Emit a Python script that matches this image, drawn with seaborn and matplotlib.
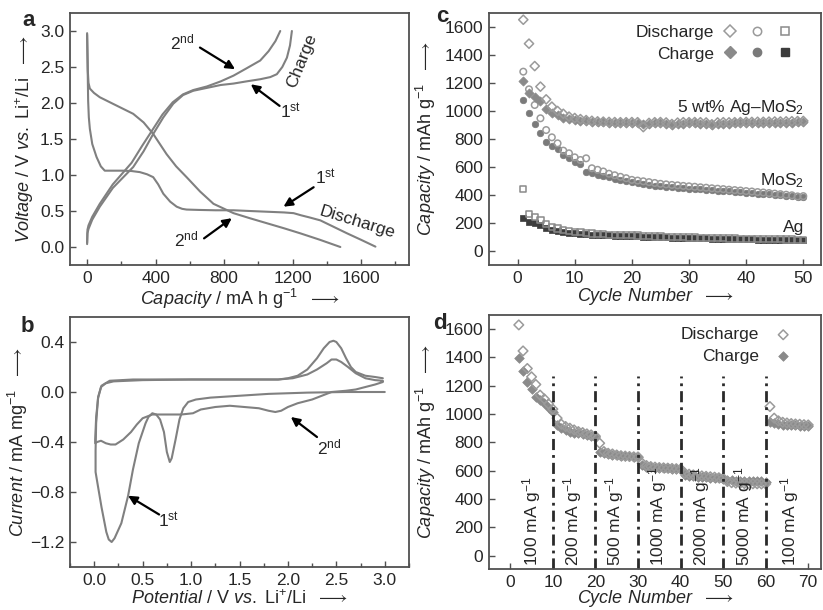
import matplotlib
matplotlib.use("Agg")
import matplotlib.pyplot as plt
import numpy as np
import seaborn as sns
from matplotlib.lines import Line2D
from matplotlib.legend_handler import HandlerTuple
from matplotlib.ticker import MultipleLocator

# ---- panel a: galvanostatic curves (capacity / mAh g-1, voltage / V)
dis1_cap = [0, 3, 6, 10, 16, 30, 55, 80, 103, 150, 211, 260, 308, 350, 386, 415, 445, 485,
            523, 555, 581, 650, 750, 855, 950, 1050, 1150, 1206, 1250, 1300, 1362, 1440, 1518, 1600, 1684]
dis1_v = [2.97, 2.5, 2.03, 1.8, 1.64, 1.43, 1.25, 1.12, 1.06, 1.06, 1.06, 1.055, 1.04, 1.01, 0.97, 0.87, 0.74, 0.63,
          0.56, 0.53, 0.52, 0.515, 0.51, 0.51, 0.5, 0.49, 0.48, 0.47, 0.44, 0.41, 0.37, 0.28, 0.19, 0.1, 0.005]
dis2_cap = [0, 4, 8, 16, 40, 74, 150, 269, 330, 386, 464, 520, 581, 660, 738, 855, 950, 1050, 1150, 1245, 1360, 1479]
dis2_v = [2.95, 2.45, 2.28, 2.2, 2.14, 2.08, 1.99, 1.85, 1.73, 1.57, 1.29, 1.12, 0.97, 0.77, 0.6, 0.47, 0.4, 0.33,
          0.26, 0.19, 0.1, 0.0]
ch1_cap = [0, 2, 8, 30, 74, 150, 269, 330, 386, 445, 503, 560, 620, 700, 780, 855, 930, 1011, 1070, 1108, 1140,
           1167, 1185, 1196]
ch1_v = [0.04, 0.19, 0.25, 0.38, 0.56, 0.82, 1.11, 1.33, 1.57, 1.8, 1.99, 2.11, 2.17, 2.21, 2.25, 2.27, 2.3, 2.33,
         2.36, 2.4, 2.5, 2.63, 2.8, 3.0]
ch2_cap = [0, 2, 8, 30, 74, 150, 260, 320, 380, 440, 500, 560, 620, 700, 780, 855, 930, 1011, 1060, 1100, 1128]
ch2_v = [0.06, 0.24, 0.3, 0.42, 0.6, 0.87, 1.17, 1.4, 1.62, 1.84, 2.01, 2.12, 2.18, 2.23, 2.3, 2.38, 2.48, 2.59,
         2.72, 2.86, 3.0]

# ---- panel b: cyclic voltammetry (potential / V, current / mA mg-1)
cv1_e = [3.0, 2.6, 2.2, 1.8, 1.5, 1.2, 1.05, 0.97, 0.92, 0.88, 0.84, 0.8, 0.78, 0.75, 0.72, 0.68, 0.64, 0.6, 0.56,
         0.53, 0.46, 0.4, 0.35, 0.28, 0.21, 0.18, 0.15, 0.125, 0.075, 0.04, 0.014,
         0.014, 0.02, 0.04, 0.075, 0.16, 0.4, 1.0, 1.5, 1.9, 2.0, 2.1, 2.2, 2.3, 2.37, 2.43, 2.47, 2.5, 2.55, 2.6,
         2.65, 2.7, 2.8, 2.9, 2.98]
cv1_i = [0.0, 0.0, -0.005, -0.015, -0.03, -0.045, -0.06, -0.08, -0.13, -0.22, -0.38, -0.53, -0.56, -0.48, -0.32,
         -0.22, -0.18, -0.17, -0.2, -0.25, -0.41, -0.62, -0.83, -1.05, -1.17, -1.2, -1.18, -1.12, -0.92, -0.76, -0.64,
         -0.47, -0.25, -0.04, 0.05, 0.09, 0.1, 0.1, 0.1, 0.1, 0.11, 0.13, 0.18, 0.27, 0.35, 0.4, 0.41, 0.4, 0.35, 0.27,
         0.2, 0.16, 0.13, 0.12, 0.11]
cv2_e = [2.98, 2.9, 2.8, 2.7, 2.6, 2.45, 2.35, 2.25, 2.1, 2.0, 1.93, 1.87, 1.8, 1.7, 1.55, 1.4, 1.25, 1.1, 1.02, 0.9,
         0.7, 0.6, 0.5, 0.44, 0.38, 0.3, 0.22, 0.17, 0.12, 0.07, 0.03, 0.01,
         0.01, 0.02, 0.04, 0.07, 0.12, 0.2, 0.5, 1.0, 1.5, 1.9, 2.05, 2.2, 2.3, 2.4, 2.45, 2.5, 2.55, 2.62, 2.7, 2.8,
         2.9, 2.98]
cv2_i = [0.08, 0.06, 0.04, 0.02, 0.01, 0.0, -0.03, -0.06, -0.09, -0.12, -0.15, -0.16, -0.15, -0.13, -0.12, -0.11,
         -0.12, -0.14, -0.17, -0.18, -0.18, -0.18, -0.21, -0.26, -0.32, -0.38, -0.42, -0.42, -0.41, -0.39, -0.4, -0.41,
         -0.38, -0.2, -0.05, 0.04, 0.07, 0.085, 0.095, 0.1, 0.1, 0.1, 0.11, 0.14, 0.18, 0.23, 0.26, 0.26, 0.24, 0.2,
         0.15, 0.11, 0.095, 0.09]

# ---- panel c: cycling at constant rate (mAh g-1), cycles 1-50
cycles_c = np.arange(1, 51)
agmos_dis = [1652, 1481, 1321, 1174, 1083, 1031, 1000, 980, 960, 950, 942, 935, 930, 926, 924, 922, 921, 920, 920, 921,
             920, 885, 915, 920, 921, 918, 907, 917, 920, 920, 921, 920, 918, 905, 918, 920, 919, 920, 921, 922,
             922, 923, 923, 924, 925, 925, 926, 927, 928, 929]
agmos_ch = [1217, 1126, 1098, 1074, 1012, 986, 974, 950, 940, 935, 930, 926, 922, 920, 918, 916, 915, 914, 914, 913,
            912, 905, 910, 912, 912, 910, 902, 908, 910, 911, 911, 910, 909, 900, 908, 910, 910, 911, 912, 912,
            913, 913, 914, 914, 915, 916, 916, 917, 918, 919]
mos_dis = [1281, 1155, 1043, 948, 864, 812, 769, 717, 698, 669, 650, 662, 591, 580, 568, 552, 541, 530, 520, 508,
           503, 498, 492, 486, 480, 476, 472, 469, 465, 462, 459, 455, 452, 448, 445, 442, 438, 435, 432, 428,
           425, 421, 418, 414, 410, 406, 402, 398, 390, 392]
mos_ch = [1079, 988, 907, 845, 781, 750, 726, 686, 662, 638, 620, 566, 557, 545, 535, 525, 515, 505, 497, 490,
          484, 478, 472, 467, 463, 459, 455, 452, 449, 446, 443, 440, 437, 434, 431, 428, 425, 422, 419, 416,
          413, 410, 407, 404, 401, 398, 395, 392, 388, 385]
ag_dis = [445, 264, 245, 221, 193, 174, 160, 150, 143, 137, 133, 128, 125, 122, 119, 117, 115, 114, 113, 112,
          110, 108, 106, 104, 103, 101, 100, 99, 98, 97, 96, 95, 94, 93, 92, 91, 90, 89, 88, 88,
          87, 86, 85, 85, 84, 83, 82, 82, 81, 81]
ag_ch = [233, 210, 198, 183, 164, 152, 145, 138, 132, 128, 124, 120, 117, 115, 113, 111, 109, 108, 107, 106,
         104, 102, 100, 99, 98, 97, 96, 95, 94, 93, 92, 91, 90, 89, 88, 87, 86, 85, 85, 84,
         83, 82, 81, 81, 80, 79, 78, 78, 77, 76]

# ---- panel d: rate capability, cycles 2-70
cycles_d = np.arange(2, 71)
rate_dis = [1630, 1446, 1322, 1263, 1209, 1134, 1107, 1071, 1035,
            971, 928, 912, 900, 888, 876, 869, 860, 853, 843,
            794, 735, 723, 718, 711, 706, 703, 700, 698, 697,
            652, 636, 629, 625, 622, 620, 618, 616, 614, 612,
            582, 575, 570, 566, 563, 560, 557, 554, 550, 546,
            523, 515, 512, 510, 509, 508, 507, 507, 506, 506,
            1053, 971, 952, 942, 937, 933, 930, 928, 925, 923]
rate_ch = [1397, 1305, 1228, 1176, 1121, 1098, 1075, 1046, 1016,
           923, 900, 888, 876, 869, 865, 858, 850, 846, 841,
           735, 723, 716, 711, 708, 705, 703, 701, 700, 700,
           641, 629, 625, 622, 620, 618, 616, 614, 613, 612,
           570, 565, 562, 558, 555, 552, 550, 548, 545, 542,
           535, 532, 530, 529, 528, 527, 526, 525, 524, 523,
           947, 935, 928, 925, 923, 921, 920, 919, 919, 919]
rate_bounds = [10, 20, 30, 40, 50, 60]
rate_labels = ["100", "200", "500", "1000", "2000", "5000", "100"]
rate_label_x = [4.9, 14.7, 24.5, 34.6, 44.8, 54.9, 65.5]

# ---- style
sns.set_style("ticks")
plt.rcParams['font.family'] = ['Liberation Sans', 'DejaVu Sans']
plt.rcParams['mathtext.fontset'] = 'custom'
plt.rcParams['mathtext.rm'] = 'Liberation Sans'
plt.rcParams['mathtext.it'] = 'Liberation Sans:italic'
plt.rcParams['mathtext.bf'] = 'Liberation Sans:bold'
plt.rcParams['mathtext.fallback'] = 'stixsans'

FS = 12.5
LINE = '#808080'
SPINE = '#505050'
ARROW = r'$\longrightarrow$'

fig = plt.figure(figsize=(8.23, 6.1), dpi=100)
W, H = 823, 610


def box(l, t, r, b):
    return [l / W, 1 - b / H, (r - l) / W, (b - t) / H]


ax_a = fig.add_axes(box(70, 13, 409, 265))
ax_c = fig.add_axes(box(489, 13, 821, 265))
ax_b = fig.add_axes(box(70, 317, 409, 567))
ax_d = fig.add_axes(box(489, 315, 821, 569))

for ax in (ax_a, ax_b, ax_c, ax_d):
    for s in ax.spines.values():
        s.set_color(SPINE)
        s.set_linewidth(1.3)
    ax.tick_params(direction='in', length=4, width=1, color=SPINE, labelsize=FS, pad=4)
    ax.tick_params(which='minor', direction='in', length=3, width=1, color=SPINE)


def arrow(ax, tail, tip):
    ax.annotate('', xy=tip, xytext=tail,
                arrowprops=dict(arrowstyle='-|>', color='black', lw=1.6, mutation_scale=13,
                                shrinkA=0, shrinkB=0))


# ---- a
for cx, cy in ((dis1_cap, dis1_v), (dis2_cap, dis2_v), (ch1_cap, ch1_v), (ch2_cap, ch2_v)):
    sns.lineplot(x=cx, y=cy, sort=False, estimator=None, color=LINE, lw=1.5, ax=ax_a)
ax_a.set_xlim(-100, 1880)
ax_a.set_ylim(-0.25, 3.25)
ax_a.set_xticks([0, 400, 800, 1200, 1600])
ax_a.xaxis.set_minor_locator(MultipleLocator(200))
ax_a.set_yticks([0, 0.5, 1.0, 1.5, 2.0, 2.5, 3.0])
ax_a.yaxis.set_major_formatter(matplotlib.ticker.FormatStrFormatter('%.1f'))
ax_a.set_xlabel(r'$\mathit{Capacity}$ / mA h g$^{-1}$  ' + ARROW, fontsize=13)
ax_a.set_ylabel(r'$\mathit{Voltage}$ / V $\mathit{vs.}$ Li$^{+}$/Li  ' + ARROW, fontsize=13)
ax_a.text(558, 2.84, r'2$^{\rm nd}$', fontsize=FS, ha='center', va='center')
arrow(ax_a, (659, 2.77), (864, 2.47))
ax_a.text(1186, 1.89, r'1$^{\rm st}$', fontsize=FS, ha='center', va='center')
arrow(ax_a, (1124, 1.96), (956, 2.26))
ax_a.text(1254, 2.59, 'Charge', fontsize=FS, rotation=68, ha='center', va='center')
ax_a.text(1391, 0.97, r'1$^{\rm st}$', fontsize=FS, ha='center', va='center')
arrow(ax_a, (1323, 0.83), (1147, 0.56))
ax_a.text(581, 0.10, r'2$^{\rm nd}$', fontsize=FS, ha='center', va='center')
arrow(ax_a, (683, 0.12), (845, 0.40))
ax_a.text(1576, 0.35, 'Discharge', fontsize=FS, rotation=-17, ha='center', va='center')

# ---- b
for ex, iy in ((cv1_e, cv1_i), (cv2_e, cv2_i)):
    sns.lineplot(x=ex, y=iy, sort=False, estimator=None, color=LINE, lw=1.5, ax=ax_b)
ax_b.set_xlim(-0.25, 3.25)
ax_b.set_ylim(-1.4, 0.6)
ax_b.set_xticks([0, 0.5, 1.0, 1.5, 2.0, 2.5, 3.0])
ax_b.xaxis.set_minor_locator(MultipleLocator(0.25))
ax_b.set_yticks([-1.2, -0.8, -0.4, 0.0, 0.4])
ax_b.xaxis.set_major_formatter(matplotlib.ticker.FormatStrFormatter('%.1f'))
ax_b.yaxis.set_major_formatter(matplotlib.ticker.FuncFormatter(lambda v, p: f'{v:.1f}'.replace('-', '\u2212')))
ax_b.set_xlabel(r'$\mathit{Potential}$ / V $\mathit{vs.}$ Li$^{+}$/Li  ' + ARROW, fontsize=13)
ax_b.set_ylabel(r'$\mathit{Current}$ / mA mg$^{-1}$  ' + ARROW, fontsize=13)
ax_b.text(0.77, -1.03, r'1$^{\rm st}$', fontsize=FS, ha='center', va='center')
arrow(ax_b, (0.67, -0.98), (0.35, -0.83))
ax_b.text(2.43, -0.44, r'2$^{\rm nd}$', fontsize=FS, ha='center', va='center')
arrow(ax_b, (2.3, -0.36), (2.03, -0.2))

# ---- c
g_dia_o, g_dia_f = '#9a9a9a', '#8a8a8a'
g_cir_o, g_cir_f = '#9a9a9a', '#7a7a7a'
g_sq_o, g_sq_f = '#8a8a8a', '#3c3c3c'
sns.scatterplot(x=cycles_c, y=ag_ch, marker='s', s=20, color=g_sq_f, edgecolor=g_sq_f, linewidth=0.5, ax=ax_c)
sns.scatterplot(x=cycles_c, y=ag_dis, marker='s', s=20, facecolor='none', edgecolor=g_sq_o, linewidth=1.1, ax=ax_c)
sns.scatterplot(x=cycles_c, y=mos_ch, marker='o', s=22, color=g_cir_f, edgecolor=g_cir_f, linewidth=0.5, ax=ax_c)
sns.scatterplot(x=cycles_c, y=mos_dis, marker='o', s=22, facecolor='none', edgecolor=g_cir_o, linewidth=1.1, ax=ax_c)
sns.scatterplot(x=cycles_c, y=agmos_ch, marker='D', s=22, color=g_dia_f, edgecolor=g_dia_f, linewidth=0.5, ax=ax_c)
sns.scatterplot(x=cycles_c, y=agmos_dis, marker='D', s=22, facecolor='none', edgecolor=g_dia_o, linewidth=1.1, ax=ax_c)
ax_c.set_xlim(-5, 53.1)
ax_c.set_ylim(-100, 1700)
ax_c.set_xticks([0, 10, 20, 30, 40, 50])
ax_c.set_yticks(range(0, 1601, 200))
ax_c.set_xlabel(r'$\mathit{Cycle\ Number}$  ' + ARROW, fontsize=13)
ax_c.set_ylabel(r'$\mathit{Capacity}$ / mAh g$^{-1}$  ' + ARROW, fontsize=13)
ax_c.text(50.2, 1025, r'5 wt% Ag–MoS$_2$', fontsize=FS, ha='right', va='center')
ax_c.text(50.2, 500, r'MoS$_2$', fontsize=FS, ha='right', va='center')
ax_c.text(50.2, 170, 'Ag', fontsize=FS, ha='right', va='center')
mk = dict(linestyle='none', markersize=6)
h_dis = (Line2D([], [], marker='D', mfc='none', mec=g_dia_o, mew=1.1, **mk),
         Line2D([], [], marker='o', mfc='none', mec=g_cir_o, mew=1.1, **mk),
         Line2D([], [], marker='s', mfc='none', mec=g_sq_o, mew=1.1, **mk))
h_ch = (Line2D([], [], marker='D', mfc=g_dia_f, mec=g_dia_f, **mk),
        Line2D([], [], marker='o', mfc=g_cir_f, mec=g_cir_f, **mk),
        Line2D([], [], marker='s', mfc=g_sq_f, mec=g_sq_f, **mk))
ax_c.legend([h_dis, h_ch], ['Discharge', 'Charge'], handler_map={tuple: HandlerTuple(ndivide=None, pad=0.6)},
            markerfirst=False, frameon=False, fontsize=FS, loc='upper right', bbox_to_anchor=(0.955, 1.0),
            handlelength=4.2, handletextpad=0.4, labelspacing=0.35, borderaxespad=0.3)

# ---- d
sns.scatterplot(x=cycles_d, y=rate_ch, marker='D', s=24, color=g_dia_f, edgecolor=g_dia_f, linewidth=0.5,
                label='Charge', ax=ax_d)
sns.scatterplot(x=cycles_d, y=rate_dis, marker='D', s=24, facecolor='none', edgecolor=g_dia_o, linewidth=1.1,
                label='Discharge', ax=ax_d)
ax_d.vlines(rate_bounds, -95, 1270, colors='#2a2a2a', linestyles=(0, (4, 1.8, 1, 1.8)), lw=2)
ax_d.set_xlim(-5, 73)
ax_d.set_ylim(-95, 1700)
ax_d.set_xticks(range(0, 71, 10))
ax_d.set_yticks(range(0, 1601, 200))
for xl, lab in zip(rate_label_x, rate_labels):
    ax_d.text(xl, -75, lab + r' mA g$^{-1}$', fontsize=FS, rotation=90, ha='center', va='bottom')
ax_d.set_xlabel(r'$\mathit{Cycle\ Number}$  ' + ARROW, fontsize=13)
ax_d.set_ylabel(r'$\mathit{Capacity}$ / mAh g$^{-1}$  ' + ARROW, fontsize=13)
hd, ld = ax_d.get_legend_handles_labels()
ax_d.legend(hd[::-1], ld[::-1], markerfirst=False, frameon=False, fontsize=FS, loc='upper right',
            bbox_to_anchor=(0.975, 1.0), handletextpad=0.4, labelspacing=0.35, borderaxespad=0.3)

# label positions
ax_a.yaxis.set_label_coords(-0.10, 0.5)
ax_b.yaxis.set_label_coords(-0.118, 0.5)
ax_c.yaxis.set_label_coords(-0.155, 0.5)
ax_d.yaxis.set_label_coords(-0.155, 0.5)
ax_a.xaxis.set_label_coords(0.5, -0.085)
ax_b.xaxis.set_label_coords(0.5, -0.09)
ax_c.xaxis.set_label_coords(0.5, -0.085)
ax_d.xaxis.set_label_coords(0.5, -0.075)

for lt, (px, py) in zip('abcd', [(29, 20), (27, 327), (442, 16), (440, 324)]):
    fig.text(px / W, 1 - py / H, lt, fontsize=16, fontweight='bold', ha='center', va='center')

fig.savefig('out.png', dpi=100)
